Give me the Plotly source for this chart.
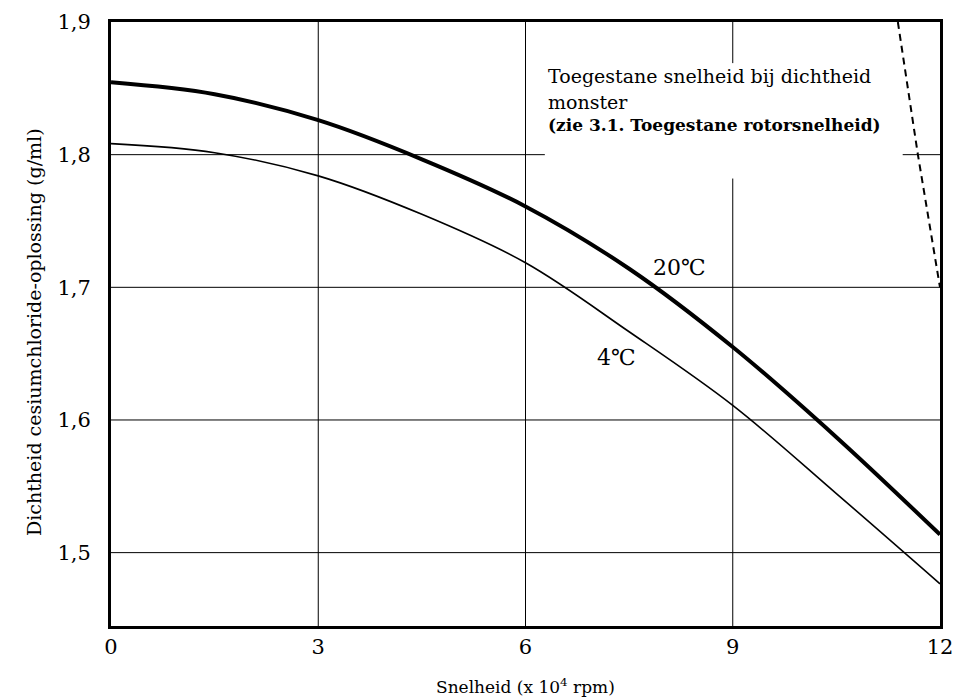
import plotly.graph_objects as go

# ---- data ----
speed = [0, 1.5, 3, 4.5, 6, 7.5, 9, 10.5, 12]
density_20c = [1.8545, 1.8455, 1.826, 1.7965, 1.761, 1.714, 1.655, 1.587, 1.5136]
density_4c = [1.8083, 1.8015, 1.784, 1.755, 1.7185, 1.6665, 1.611, 1.5445, 1.4765]
limit_speed = [11.39, 11.68, 12.0]
limit_density = [1.9, 1.8, 1.7]

x_ticks = [0, 3, 6, 9, 12]
x_tick_labels = ["0", "3", "6", "9", "12"]
y_ticks = [1.5, 1.6, 1.7, 1.8, 1.9]
y_tick_labels = ["1,5", "1,6", "1,7", "1,8", "1,9"]

X_RANGE = [0, 12]
Y_RANGE = [1.4447, 1.9]

SERIF = "DejaVu Serif, Liberation Serif, serif"

fig = go.Figure()

fig.add_trace(go.Scatter(x=speed, y=density_4c, mode="lines",
                         line=dict(color="black", width=1.6, shape="spline", smoothing=1.0),
                         hoverinfo="skip", showlegend=False))
fig.add_trace(go.Scatter(x=speed, y=density_20c, mode="lines",
                         line=dict(color="black", width=4, shape="spline", smoothing=1.0),
                         hoverinfo="skip", showlegend=False))
fig.add_trace(go.Scatter(x=limit_speed, y=limit_density, mode="lines",
                         line=dict(color="black", width=2, dash="7px,5px"),
                         hoverinfo="skip", showlegend=False))

# gridlines (some interrupted around the annotation text)
grid_style = dict(color="black", width=1)
x_gaps = {9: [(Y_RANGE[0], 1.782), (1.869, Y_RANGE[1])]}
y_gaps = {1.8: [(X_RANGE[0], 6.28), (11.46, X_RANGE[1])]}
for xv in x_ticks[1:-1]:
    for y0, y1 in x_gaps.get(xv, [(Y_RANGE[0], Y_RANGE[1])]):
        fig.add_shape(type="line", xref="x", yref="y", x0=xv, x1=xv, y0=y0, y1=y1,
                      line=grid_style, layer="below")
for yv in y_ticks[:-1]:
    for x0, x1 in y_gaps.get(yv, [(X_RANGE[0], X_RANGE[1])]):
        fig.add_shape(type="line", xref="x", yref="y", x0=x0, x1=x1, y0=yv, y1=yv,
                      line=grid_style, layer="below")

# annotations
fig.add_annotation(x=6.30, y=1.8590, xref="x", yref="y", xanchor="left", yanchor="middle",
                   text="Toegestane snelheid bij dichtheid", showarrow=False,
                   font=dict(family=SERIF, size=19, color="black"))
fig.add_annotation(x=6.30, y=1.8400, xref="x", yref="y", xanchor="left", yanchor="middle",
                   text="monster", showarrow=False,
                   font=dict(family=SERIF, size=19, color="black"))
fig.add_annotation(x=6.30, y=1.8220, xref="x", yref="y", xanchor="left", yanchor="middle",
                   text="<b>(zie 3.1. Toegestane rotorsnelheid)</b>", showarrow=False,
                   font=dict(family=SERIF, size=17, color="black"))
fig.add_annotation(x=8.23, y=1.7152, xref="x", yref="y", xanchor="center", yanchor="middle",
                   text="20℃", showarrow=False,
                   font=dict(family=SERIF, size=22, color="black"))
fig.add_annotation(x=7.31, y=1.647, xref="x", yref="y", xanchor="center", yanchor="middle",
                   text="4℃", showarrow=False,
                   font=dict(family=SERIF, size=22, color="black"))

# axis titles
fig.add_annotation(x=0.5, y=0.0, xref="paper", yref="paper", xanchor="center", yanchor="top",
                   yshift=-47, text="Snelheid (x 10<sup>4</sup> rpm)", showarrow=False,
                   font=dict(family=SERIF, size=17, color="black"))
fig.add_annotation(x=0, y=0.5, xref="paper", yref="paper", xanchor="center", yanchor="middle",
                   xshift=-77, yshift=-8, textangle=-90,
                   text="Dichtheid cesiumchloride-oplossing (g/ml)", showarrow=False,
                   font=dict(family=SERIF, size=19, color="black"))

axis_common = dict(showgrid=False, zeroline=False, showline=True, linecolor="black",
                   linewidth=3, mirror=True, ticks="", automargin=False,
                   tickfont=dict(family=SERIF, size=21, color="black"))

fig.update_xaxes(range=X_RANGE, tickvals=x_ticks, ticktext=x_tick_labels,
                 ticklabelstandoff=0, **axis_common)
fig.update_yaxes(range=Y_RANGE, tickvals=y_ticks, ticktext=y_tick_labels,
                 ticklabelstandoff=13, **axis_common)

fig.update_layout(width=958, height=700, plot_bgcolor="white", paper_bgcolor="white",
                  margin=dict(l=111, r=18, t=22, b=74), showlegend=False)

fig.write_html("out.html", config={"displayModeBar": False},
               post_script="document.body.style.margin='0';document.body.style.overflow='hidden';")
